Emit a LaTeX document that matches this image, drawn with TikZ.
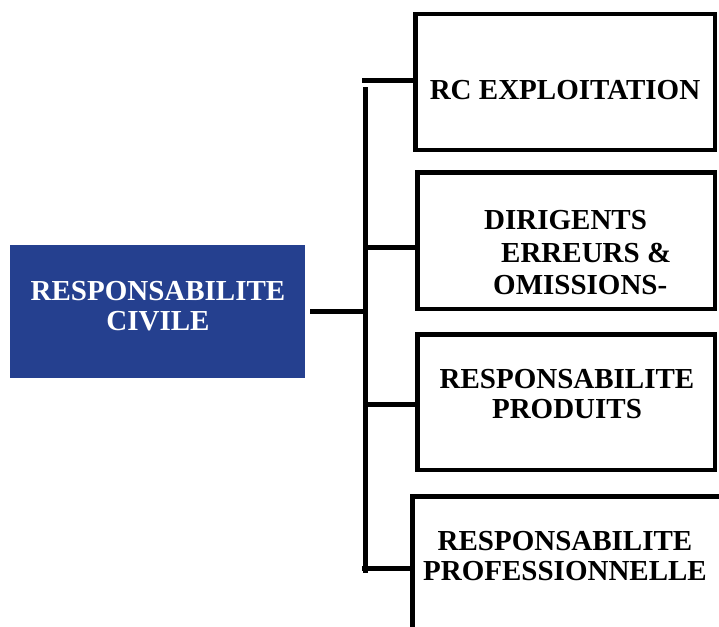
\documentclass[tikz,border=0pt]{standalone}
\usepackage{fontspec}
\setmainfont{Liberation Serif}
\definecolor{rcblue}{RGB}{37,64,143}
\begin{document}
\begin{tikzpicture}[x=1pt,y=-1pt,
  box/.style={draw=black, line width=4.5pt, rectangle, inner sep=0pt},
  lbl/.style={font=\fontsize{29}{30.5}\selectfont\bfseries, align=center, inner sep=0pt},
  conn/.style={line width=5pt}]
\useasboundingbox (0,0) rectangle (719,626);
\clip (0,0) rectangle (719,626);
% main box
\node[fill=rcblue, minimum width=295pt, minimum height=133pt, inner sep=0pt] (rc) at (157.5,311.5) {};
\node[lbl, text=white] (rct) at (158,306) {RESPONSABILITE\\CIVILE};
% right boxes
\node[box, minimum width=299.5pt, minimum height=135.5pt] (b1) at (565,82) {};
\node[box, minimum width=297.5pt, minimum height=136.5pt] (b2) at (566,240.5) {};
\node[box, minimum width=297.5pt, minimum height=135.5pt] (b3) at (566,402) {};
\node[box, minimum width=340pt, minimum height=170pt, anchor=north west] (b4) at (410.25,494.25) {};
% texts
\node[lbl] (t1) at (565,90) {RC EXPLOITATION};
\node[lbl, font=\fontsize{29}{32.5}\selectfont\bfseries, align=left, anchor=west] (t2) at (484,253) {DIRIGENTS\\\hspace*{17pt}ERREURS \&\\\hspace*{9pt}OMISSIONS-};
\node[lbl] (t3) at (567,394) {RESPONSABILITE\\PRODUITS};
\node[lbl] (t4) at (565,556) {RESPONSABILITE\\PROFESSIONNELLE};
% connectors
\coordinate (tt) at (365.5,87);
\coordinate (tb) at (365.5,573);
\coordinate (j0) at (365.5,311);
\coordinate (j1) at (362,80);
\coordinate (j2) at (365.5,247);
\coordinate (j3) at (365.5,404);
\coordinate (j4) at (362,568);
\draw[conn] (tt) -- (tb);
\draw[conn, shorten <=5pt] (rc.east |- j0) -- (j0);
\draw[conn] (j1) -- (j1 -| b1.west);
\draw[conn] (j2) -- (j2 -| b2.west);
\draw[conn] (j3) -- (j3 -| b3.west);
\draw[conn] (j4) -- (j4 -| b4.west);
\end{tikzpicture}
\end{document}
